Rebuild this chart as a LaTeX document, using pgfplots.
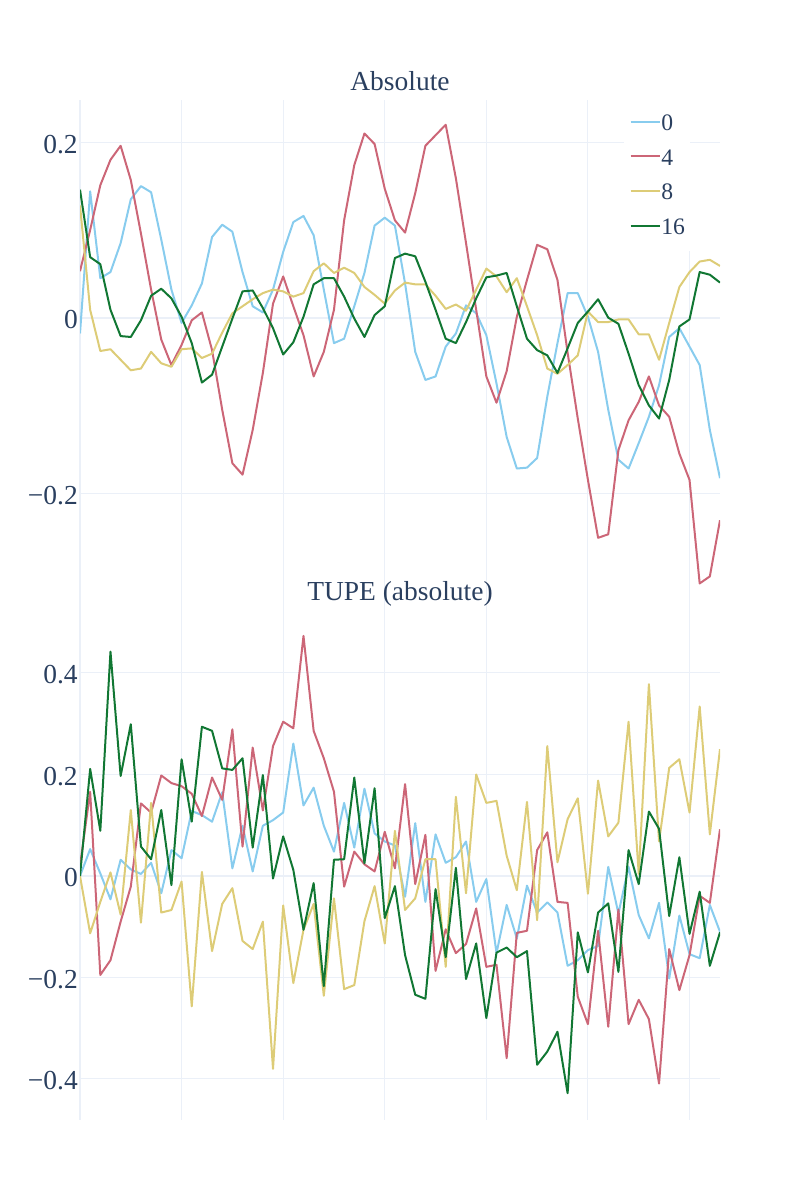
\documentclass[border=0pt]{standalone}
\usepackage{fontspec}
\setmainfont{Liberation Serif}
\usepackage{pgfplots}
\usepackage{pgfplotstable}
\pgfplotsset{compat=1.18}
\definecolor{textc}{HTML}{2A3F5F}
\definecolor{gridc}{HTML}{EBF0F8}
\definecolor{c0}{HTML}{88CCEE}
\definecolor{c4}{HTML}{CC6677}
\definecolor{c8}{HTML}{DDCC77}
\definecolor{c16}{HTML}{117733}

\pgfplotstableread{
x b r y g
0 -0.018 0.053 0.128 0.146
1 0.144 0.100 0.009 0.069
2 0.045 0.151 -0.038 0.061
3 0.052 0.180 -0.036 0.009
4 0.085 0.196 -0.048 -0.021
5 0.135 0.157 -0.060 -0.022
6 0.150 0.096 -0.058 -0.003
7 0.143 0.032 -0.039 0.025
8 0.089 -0.025 -0.052 0.033
9 0.032 -0.054 -0.056 0.022
10 -0.006 -0.031 -0.036 0.001
11 0.014 -0.003 -0.035 -0.029
12 0.039 0.006 -0.046 -0.074
13 0.092 -0.037 -0.041 -0.065
14 0.106 -0.105 -0.017 -0.033
15 0.098 -0.166 0.005 -0.001
16 0.052 -0.179 0.013 0.030
17 0.013 -0.128 0.021 0.031
18 0.006 -0.063 0.028 0.011
19 0.032 0.016 0.032 -0.012
20 0.075 0.047 0.030 -0.042
21 0.109 0.013 0.024 -0.028
22 0.116 -0.020 0.028 0.001
23 0.094 -0.067 0.053 0.038
24 0.032 -0.039 0.062 0.045
25 -0.029 0.009 0.051 0.045
26 -0.024 0.111 0.057 0.024
27 0.013 0.174 0.051 -0.001
28 0.051 0.210 0.035 -0.022
29 0.105 0.198 0.026 0.003
30 0.114 0.147 0.016 0.013
31 0.105 0.111 0.031 0.068
32 0.039 0.097 0.040 0.073
33 -0.039 0.142 0.038 0.070
34 -0.071 0.196 0.038 0.041
35 -0.067 0.208 0.025 0.009
36 -0.033 0.220 0.010 -0.024
37 -0.018 0.159 0.015 -0.029
38 0.014 0.085 0.008 -0.005
39 0.005 0.009 0.032 0.022
40 -0.020 -0.067 0.056 0.046
41 -0.075 -0.097 0.047 0.048
42 -0.136 -0.061 0.029 0.051
43 -0.172 0.001 0.045 0.013
44 -0.171 0.043 0.013 -0.024
45 -0.160 0.083 -0.020 -0.037
46 -0.090 0.078 -0.058 -0.043
47 -0.029 0.043 -0.064 -0.063
48 0.028 -0.040 -0.054 -0.035
49 0.028 -0.115 -0.043 -0.006
50 0.001 -0.185 0.007 0.007
51 -0.039 -0.251 -0.005 0.021
52 -0.105 -0.247 -0.005 0.000
53 -0.162 -0.151 -0.002 -0.007
54 -0.172 -0.117 -0.002 -0.041
55 -0.143 -0.096 -0.019 -0.077
56 -0.113 -0.067 -0.019 -0.100
57 -0.077 -0.100 -0.048 -0.115
58 -0.022 -0.113 -0.006 -0.071
59 -0.012 -0.155 0.035 -0.010
60 -0.033 -0.185 0.052 -0.002
61 -0.054 -0.303 0.064 0.052
62 -0.128 -0.295 0.066 0.049
63 -0.183 -0.231 0.059 0.040
}\tabtop

\pgfplotstableread{
x b r y g
0 0.000 0.020 0.000 0.000
1 0.053 0.166 -0.113 0.211
2 0.005 -0.195 -0.051 0.089
3 -0.046 -0.166 0.007 0.442
4 0.032 -0.090 -0.076 0.197
5 0.013 -0.021 0.130 0.299
6 0.004 0.143 -0.092 0.058
7 0.026 0.125 0.144 0.033
8 -0.034 0.198 -0.072 0.130
9 0.051 0.183 -0.067 -0.018
10 0.035 0.177 -0.011 0.230
11 0.128 0.162 -0.257 0.107
12 0.120 0.118 0.008 0.294
13 0.107 0.194 -0.148 0.286
14 0.165 0.150 -0.055 0.212
15 0.015 0.289 -0.024 0.209
16 0.099 0.058 -0.128 0.232
17 0.009 0.253 -0.144 0.056
18 0.099 0.129 -0.090 0.199
19 0.110 0.256 -0.380 -0.005
20 0.125 0.304 -0.058 0.078
21 0.261 0.291 -0.211 0.012
22 0.139 0.473 -0.106 -0.106
23 0.174 0.286 -0.055 -0.014
24 0.099 0.232 -0.236 -0.217
25 0.048 0.166 -0.044 0.032
26 0.144 -0.021 -0.223 0.033
27 0.056 0.048 -0.215 0.194
28 0.172 0.023 -0.089 0.025
29 0.084 0.009 -0.020 0.173
30 0.068 0.087 -0.133 -0.083
31 0.060 0.015 0.089 -0.020
32 -0.041 0.181 -0.067 -0.156
33 0.104 -0.016 -0.044 -0.234
34 -0.051 0.081 0.033 -0.242
35 0.082 -0.187 0.033 -0.026
36 0.026 -0.105 -0.179 -0.160
37 0.037 -0.152 0.156 0.016
38 0.068 -0.134 -0.034 -0.203
39 -0.051 -0.064 0.200 -0.133
40 -0.006 -0.179 0.144 -0.280
41 -0.152 -0.175 0.148 -0.151
42 -0.057 -0.359 0.040 -0.141
43 -0.123 -0.112 -0.028 -0.160
44 -0.019 -0.108 0.146 -0.148
45 -0.072 0.051 -0.087 -0.372
46 -0.052 0.086 0.256 -0.346
47 -0.072 -0.051 0.027 -0.307
48 -0.177 -0.053 0.112 -0.428
49 -0.166 -0.238 0.153 -0.111
50 -0.146 -0.292 -0.035 -0.190
51 -0.138 -0.108 0.188 -0.072
52 0.018 -0.297 0.078 -0.054
53 -0.074 -0.066 0.105 -0.189
54 0.018 -0.292 0.304 0.051
55 -0.077 -0.244 0.004 -0.016
56 -0.123 -0.282 0.378 0.127
57 -0.053 -0.409 0.068 0.093
58 -0.202 -0.144 0.213 -0.079
59 -0.078 -0.225 0.230 0.037
60 -0.154 -0.156 0.125 -0.114
61 -0.162 -0.039 0.334 -0.031
62 -0.057 -0.053 0.082 -0.177
63 -0.110 0.092 0.250 -0.111
}\tabbot

\pgfplotsset{
  myaxis/.style={
    scale only axis, width=480pt, height=382.5pt,
    xmin=0, xmax=63,
    xtick={0,10,20,30,40,50,60}, xticklabels={,,,,,,,},
    grid=major, major grid style={color=gridc, line width=0.75pt},
    axis line style={draw=none},
    tick style={draw=none}, major tick length=0pt,
    yticklabel style={font=\fontsize{20.6}{24}\selectfont, text=textc, anchor=east, inner sep=0pt, xshift=-1.5pt, yshift=-1.5pt},
    title style={font=\fontsize{20.6}{24}\selectfont, text=textc, at={(0.5,1)}, anchor=base, yshift=1.2pt},
    every axis plot/.append style={line width=1.5pt, no markers, line join=round},
  }
}

\begin{document}
\begin{tikzpicture}
\useasboundingbox (0,0) rectangle (600pt,900pt);
\begin{axis}[myaxis, at={(60pt,442.5pt)}, anchor=south west,
  ymin=-0.3333, ymax=0.2482,
  ytick={-0.2,0,0.2}, yticklabels={−0.2,0,0.2},
  title={Absolute},
  legend cell align=left,
  legend style={at={(0.85,1)}, anchor=north west, draw=none, fill=white,
    font=\fontsize{17.7}{20}\selectfont, text=textc,
    inner xsep=4pt, inner ysep=8.6pt, row sep=8pt,
    nodes={inner sep=0pt, text height=14pt, text depth=4pt},
    /tikz/every even column/.append style={column sep=4pt}},
  legend image code/.code={\draw[#1, line width=1.5pt] (0pt,1.5pt) -- (22.3pt,1.5pt);},
]
\draw[gridc, line width=1.5pt] (rel axis cs:0,0) -- (rel axis cs:0,1);
\draw[gridc, line width=1.5pt] (axis cs:0,0) -- (axis cs:63,0);
\addplot[c0] table[x=x, y=b] {\tabtop}; \addlegendentry{0}
\addplot[c4] table[x=x, y=r] {\tabtop}; \addlegendentry{4}
\addplot[c8] table[x=x, y=y] {\tabtop}; \addlegendentry{8}
\addplot[c16] table[x=x, y=g] {\tabtop}; \addlegendentry{16}
\end{axis}

\begin{axis}[myaxis, at={(60pt,60pt)}, anchor=south west,
  ymin=-0.4808, ymax=0.5241,
  ytick={-0.4,-0.2,0,0.2,0.4}, yticklabels={−0.4,−0.2,0,0.2,0.4},
  title={TUPE (absolute)},
]
\draw[gridc, line width=1.5pt] (rel axis cs:0,0) -- (rel axis cs:0,1);
\draw[gridc, line width=1.5pt] (axis cs:0,0) -- (axis cs:63,0);
\addplot[c0] table[x=x, y=b] {\tabbot};
\addplot[c4] table[x=x, y=r] {\tabbot};
\addplot[c8] table[x=x, y=y] {\tabbot};
\addplot[c16] table[x=x, y=g] {\tabbot};
\end{axis}
\end{tikzpicture}
\end{document}
